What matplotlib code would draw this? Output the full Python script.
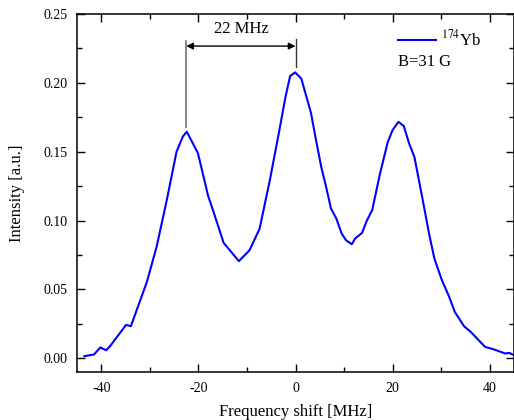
import matplotlib
matplotlib.use("Agg")
import matplotlib.pyplot as plt
from matplotlib.ticker import MultipleLocator

plt.rcParams['font.family'] = ['Liberation Serif', 'DejaVu Serif']
plt.rcParams['mathtext.fontset'] = 'stix'
plt.rcParams['axes.unicode_minus'] = False

freq = [-43.5, -41.5, -40.2, -39.0, -38.2, -34.9, -33.9, -30.6, -28.6, -26.5,
        -24.5, -23.2, -22.4, -20.1, -18.0, -17.0, -14.8, -11.65, -9.45, -7.4,
        -5.3, -3.3, -2.05, -1.1, -0.07, 1.2, 3.2, 4.25, 5.3, 6.3,
        7.3, 8.4, 9.5, 10.4, 11.6, 12.3, 13.7, 14.7, 15.8, 17.4,
        19.0, 20.0, 21.2, 22.3, 23.4, 24.5, 26.2, 27.5, 28.6, 30.15,
        31.65, 32.8, 34.7, 36.1, 39.05, 40.8, 43.2, 44.0, 44.7]
intensity = [0.0015, 0.0027, 0.0078, 0.0058, 0.0087, 0.0242, 0.0233, 0.0555, 0.081, 0.115,
             0.150, 0.161, 0.1645, 0.149, 0.118, 0.1076, 0.0838, 0.0705, 0.0785, 0.094,
             0.129, 0.166, 0.190, 0.205, 0.2076, 0.203, 0.178, 0.158, 0.139, 0.1245,
             0.1088, 0.1015, 0.0906, 0.0857, 0.0828, 0.087, 0.091, 0.100, 0.1076, 0.134,
             0.157, 0.1657, 0.1717, 0.1686, 0.156, 0.146, 0.115, 0.0906, 0.0724, 0.0567,
             0.0446, 0.0337, 0.0233, 0.0191, 0.0082, 0.0065, 0.0034, 0.0039, 0.0027]

peak_left = -22.5
peak_center = 0.0
splitting_label = "22 MHz"

fig = plt.figure(figsize=(5.14, 4.2), dpi=100)
ax = fig.add_axes([77/514, 48/420, 437/514, 358/420])

ax.plot(freq, intensity, color=(0, 0, 1), lw=1.5, label=r'$^{174}$Yb')

ax.set_xlim(-45, 45)
ax.set_ylim(-0.01, 0.25)
ax.xaxis.set_major_locator(MultipleLocator(20))
ax.xaxis.set_minor_locator(MultipleLocator(10))
ax.yaxis.set_major_locator(MultipleLocator(0.05))
ax.yaxis.set_minor_locator(MultipleLocator(0.025))
ax.yaxis.set_major_formatter(plt.FuncFormatter(lambda v, p: f"{v:.2f}"))
ax.tick_params(which='both', direction='in', top=True, right=True, labelsize=10, width=1.0)
ax.tick_params(which='major', length=6)
ax.tick_params(axis='x', which='major', pad=7)
ax.tick_params(axis='y', which='major', pad=7)
ax.tick_params(which='minor', length=3.5)
for s in ax.spines.values():
    s.set_linewidth(1.1)

ax.set_xlabel('Frequency shift [MHz]', fontsize=12, labelpad=6.5)
ax.set_ylabel('Intensity [a.u.]', fontsize=12, labelpad=13)

# annotation lines
ax.plot([peak_left, peak_left], [0.168, 0.2304], color='0.45', lw=1.2)
ax.plot([peak_center, peak_center], [0.2115, 0.2318], color='0.2', lw=1.0)
ax.annotate('', xy=(peak_left, 0.2267), xytext=(peak_center, 0.2267),
            arrowprops=dict(arrowstyle='<|-|>', color='black', lw=1.0,
                            shrinkA=0, shrinkB=0, mutation_scale=10))
ax.text((peak_left + peak_center) / 2, 0.2335, splitting_label, ha='center', va='bottom',
        fontsize=12)

leg = ax.legend(loc='upper left', frameon=False, fontsize=12, handlelength=2.3,
                bbox_to_anchor=(0.7346, 0.9564), borderaxespad=0, borderpad=0,
                handletextpad=0.25)
ax.text(0.7346, 0.866, 'B=31 G', transform=ax.transAxes, fontsize=12, ha='left', va='center')

fig.savefig('out.png', dpi=100)
